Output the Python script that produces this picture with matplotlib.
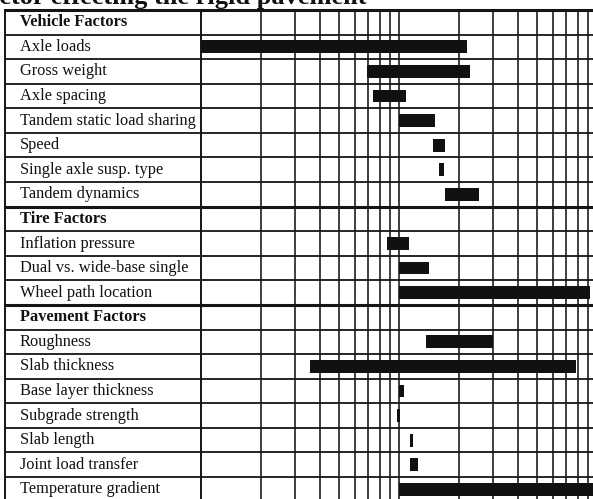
import matplotlib
matplotlib.use("Agg")
import matplotlib.pyplot as plt

# ---- data ----
labels = ["Vehicle Factors", "Axle loads", "Gross weight", "Axle spacing",
          "Tandem static load sharing", "Speed", "Single axle susp. type",
          "Tandem dynamics", "Tire Factors", "Inflation pressure",
          "Dual vs. wide-base single", "Wheel path location",
          "Pavement Factors", "Roughness", "Slab thickness",
          "Base layer thickness", "Subgrade strength", "Slab length",
          "Joint load transfer", "Temperature gradient"]
is_header = [True, False, False, False, False, False, False, False,
             True, False, False, False,
             True, False, False, False, False, False, False, False]
bar_start = [None, 1.0, 6.9, 7.4, 10.0, 14.9, 15.9, 17.1,
             None, 8.7, 10.0, 10.0,
             None, 13.7, 3.55, 10.0, 9.8, 11.3, 11.3, 10.0]
bar_end = [None, 22.0, 22.8, 10.8, 15.2, 17.1, 16.9, 25.3,
           None, 11.2, 14.2, 92.0,
           None, 29.8, 78.4, 10.6, 10.15, 11.7, 12.5, 100.0]
grid_values = [2, 3, 4, 5, 6, 7, 8, 9, 10, 20, 30, 40, 50, 60, 70, 80, 90, 100]
title_text = "Factor effecting the rigid pavement"

# ---- layout ----
W, H = 593, 499
fig = plt.figure(figsize=(W / 100, H / 100), dpi=100)
fig.patch.set_facecolor("white")

def rect(x0, y0, x1, y1):
    return [x0 / W, 1 - y1 / H, (x1 - x0) / W, (y1 - y0) / H]

n = len(labels)
top = 10.0
row_h = 24.58
bottom = top + n * row_h

lab_ax = fig.add_axes(rect(5, top, 201, bottom))
ch_ax = fig.add_axes(rect(201, top, 597, bottom))
for ax in (lab_ax, ch_ax):
    ax.set_ylim(n, 0)
    ax.axis("off")
lab_ax.set_xlim(0, 1)
ch_ax.set_xscale("log")
ch_ax.set_xlim(1, 100)

lc = "#151515"
section_rows = [i for i, h in enumerate(is_header) if h and i > 0]
for i in range(n + 1):
    lw = 2.2 if (i in section_rows or i == 0) else 1.3
    for ax in (lab_ax, ch_ax):
        ax.axhline(i, color=lc, lw=lw, clip_on=False, zorder=2)

lab_ax.axvline(0, color=lc, lw=1.4, clip_on=False)
ch_ax.axvline(1, color=lc, lw=1.4, clip_on=False)
for v in grid_values:
    ch_ax.axvline(v, color=lc, lw=1.15, clip_on=False, zorder=2)

for i, (s, e) in enumerate(zip(bar_start, bar_end)):
    if s is None:
        continue
    ch_ax.barh(i + 0.5, e - s, left=s, height=0.52, color="#111111", zorder=3)

for i, (lab, h) in enumerate(zip(labels, is_header)):
    lab_ax.text(15 / 196, i + 0.5, lab, va="center", ha="left",
                fontfamily="Liberation Serif", fontsize=11.8,
                fontweight="bold" if h else "normal", color="#111111")

fig.text(367 / W, 1 - 4 / H, title_text, ha="right", va="baseline",
         fontfamily="Liberation Serif", fontsize=19, fontweight="bold",
         color="#111111")

fig.savefig("out.png", dpi=100)
